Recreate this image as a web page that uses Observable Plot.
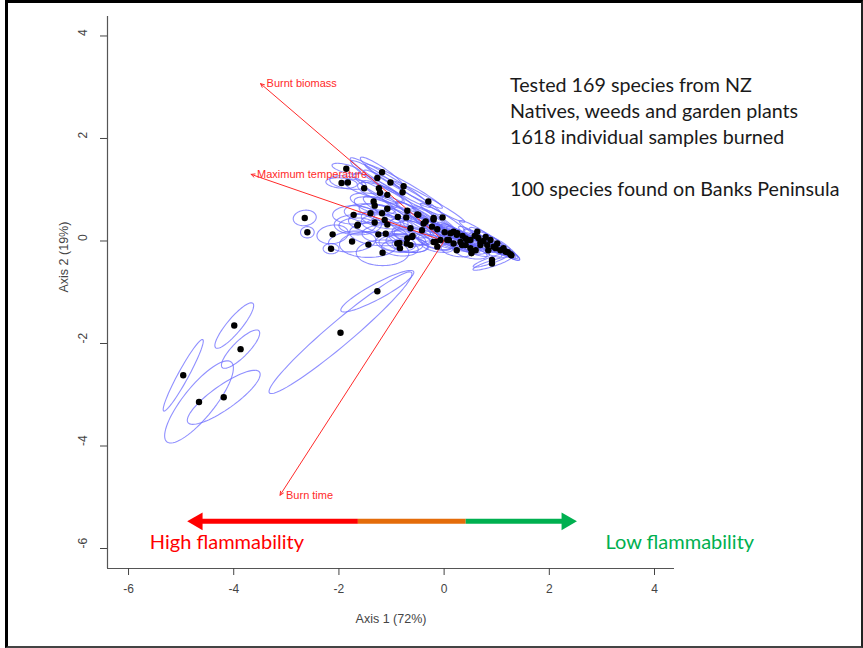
<!DOCTYPE html>
<html>
<head>
<meta charset="utf-8">
<script src="https://cdn.jsdelivr.net/npm/d3@7"></script>
<script src="https://cdn.jsdelivr.net/npm/@observablehq/plot@0.6"></script>
<style>
  html, body { margin: 0; padding: 0; background: #fff; }
  #wrap { position: relative; width: 863px; height: 648px; overflow: hidden; background: #fff; }
  #chart { position: absolute; left: 0; top: 0; }
  #note { position: absolute; left: 510px; top: 72px; font-family: Lato, "Open Sans", sans-serif; font-size: 19.7px; line-height: 26px; color: #1a1a1a; white-space: nowrap; }
  #frame { position: absolute; left: 5px; top: 0; width: 853px; height: 643px; border-top: 3px solid #000; border-left: 3px solid #000; border-right: 2px solid #222; border-bottom: 2px solid #444; pointer-events: none; }
</style>
</head>
<body>
<div id="wrap">
  <div id="chart"></div>
  <div id="note">Tested 169 species from NZ<br>Natives, weeds and garden plants<br>1618 individual samples burned<br><br>100 species found on Banks Peninsula</div>
  <div id="frame"></div>
</div>
<script>
// ---- Species scores (Axis 1, Axis 2) and their ellipses ----
const speciesX = [
  -1.27, -1.97, -3.99, -3.87, -4.96, -4.66, -4.19,
  -2.65, -2.60, -2.12, -2.15,
  -1.86, -1.18, -1.95, -1.83, -1.27, -1.02, -0.77, -1.52, -1.24, -0.79,
  -1.22, -1.08, -0.30, -1.34, -1.32, -1.08, -1.40, -0.70, -1.72, -1.18,
  -0.49, -0.88, -0.20, -0.03, -1.32, -1.13, -0.72, -0.39, -1.64, -1.08,
  -0.64, -0.23, -1.25, -1.11, -0.60, -1.75, -1.44, -0.85, -0.71, -0.20,
   0.01,  0.09,  0.24,  0.24, -1.17, -1.65, -0.84,
  -0.20, -0.13,  0.12,  0.25,  0.63,  0.79,  0.88,  1.01,  1.13,  1.26,
   0.94,  0.82,  0.69,  0.50,  0.41,  0.31,  0.18,  0.06, -0.07, -0.16,
  -0.13,  0.52,  0.91,  0.91, -0.70, -0.64, -0.35, -0.42,  0.18,  0.44,
   0.50,  0.34,  0.69,  1.17, -0.89, -0.61, -0.51,  0.35,  0.58,  0.65,
   0.75,  0.98,  1.07,  1.21,  1.28,  0.84,  0.60,  0.41
];
const speciesY = [
  -0.98, -1.79, -1.65, -2.11, -2.62, -3.14, -3.05,
   0.45,  0.17,  0.13, -0.15,
   1.41,  1.34,  1.13,  1.14,  1.23,  1.14,  1.07,  1.03,  1.03,  0.95,
   0.94,  0.90,  0.77,  0.77,  0.69,  0.63,  0.54,  0.59,  0.51,  0.54,
   0.51,  0.47,  0.45,  0.46,  0.36,  0.41,  0.46,  0.34,  0.32,  0.32,
   0.25,  0.28,  0.13,  0.14,  0.10, -0.01, -0.07, -0.04, -0.05, -0.02,
   0.17,  0.02,  0.12, -0.18, -0.23,  0.30, -0.14,
   0.42,  0.23,  0.15,  0.15,  0.18,  0.08,  0.02, -0.05, -0.14, -0.26,
  -0.11, -0.08, -0.02,  0.02,  0.05, -0.02, -0.05,  0.02,  0.02, -0.02,
  -0.11, -0.24, -0.37, -0.44,  0.05, -0.08,  0.38,  0.21,  0.18,  0.02,
  -0.14, -0.08, -0.08, -0.21, -0.05,  0.08,  0.52,  0.10,  0.10,  0.06,
   0.00, -0.14, -0.18, -0.22, -0.28, -0.18, -0.18, -0.08
];
// semi-axes (axis units) and orientation (degrees) of each species ellipse
const ellipseMajor = [
  0.79, 1.79, 0.56, 0.50, 0.79, 0.99, 0.84,
  0.22, 0.13, 0.30, 0.15,
  0.28, 0.50, 0.30, 0.35, 0.60, 0.90, 0.85, 0.40, 0.55, 0.85,
  0.45, 0.55, 0.80, 0.45, 0.40, 0.50, 0.50, 0.55, 0.40, 0.45,
  0.50, 0.50, 0.45, 0.50, 0.50, 0.45, 0.45, 0.40, 0.45, 0.50,
  0.40, 0.35, 0.55, 0.45, 0.40, 0.45, 0.55, 0.45, 0.40, 0.35,
  0.40, 0.35, 0.40, 0.30, 0.50, 0.35, 0.35,
  0.45, 0.40, 0.35, 0.35, 0.40, 0.35, 0.30, 0.30, 0.25, 0.20,
  0.30, 0.30, 0.35, 0.35, 0.35, 0.35, 0.35, 0.35, 0.35, 0.35,
  0.30, 0.30, 0.38, 0.38, 0.35, 0.35, 0.40, 0.40, 0.35, 0.30,
  0.30, 0.30, 0.30, 0.22, 0.35, 0.35, 0.45, 0.35, 0.35, 0.32,
  0.30, 0.28, 0.25, 0.22, 0.18, 0.28, 0.28, 0.30
];
const ellipseMinor = [
  0.15, 0.23, 0.14, 0.15, 0.10, 0.30, 0.23,
  0.15, 0.11, 0.18, 0.10,
  0.08, 0.09, 0.10, 0.12, 0.10, 0.10, 0.09, 0.12, 0.12, 0.10,
  0.14, 0.12, 0.07, 0.15, 0.14, 0.13, 0.18, 0.10, 0.18, 0.15,
  0.09, 0.12, 0.08, 0.07, 0.20, 0.16, 0.12, 0.10, 0.20, 0.18,
  0.14, 0.09, 0.22, 0.18, 0.15, 0.20, 0.25, 0.18, 0.16, 0.12,
  0.08, 0.09, 0.07, 0.12, 0.25, 0.15, 0.15,
  0.08, 0.08, 0.07, 0.07, 0.07, 0.07, 0.07, 0.07, 0.06, 0.06,
  0.08, 0.08, 0.08, 0.08, 0.08, 0.09, 0.10, 0.09, 0.10, 0.12,
  0.10, 0.10, 0.06, 0.06, 0.14, 0.14, 0.08, 0.10, 0.07, 0.07,
  0.09, 0.09, 0.07, 0.06, 0.15, 0.12, 0.08, 0.07, 0.07, 0.07,
  0.07, 0.07, 0.06, 0.06, 0.05, 0.07, 0.08, 0.08
];
const ellipseAngle = [
  29, 41, 51, 46, 62, 52, 36,
  8, 0, 8, 0,
  -15, -35, -5, -10, -33, -32, -30, -20, -30, -30,
  -20, -28, -30, -10, -15, -25, -5, -30, 0, -15,
  -30, -25, -30, -32, -5, -10, -25, -28, 0, -8,
  -20, -28, -5, 0, -15, 5, 0, -5, -10, -20,
  -30, -28, -30, -10, 0, 0, -5,
  -30, -30, -30, -30, -32, -30, -30, -30, -30, -30,
  -28, -28, -28, -28, -28, -25, -20, -25, -25, -15,
  -10, -10, 20, 18, -10, -5, -30, -25, -30, -28,
  -15, -20, -25, -30, -5, -15, -32, -30, -30, -30,
  -30, -30, -30, -30, -30, -25, -20, -25
];

// ---- Fitted trait vectors ----
const vectorLabels = ["Burnt biomass", "Maximum temperature", "Burn time"];
const vectorX = [-3.49, -3.67, -3.12];
const vectorY = [3.07, 1.30, -4.96];

// ---- Axes ----
const xTicks = [-6, -4, -2, 0, 2, 4];
const yTicks = [-6, -4, -2, 0, 2, 4];
const xDomain = [-6.4, 4.38];
const yDomain = [-6.39, 4.38];
const xTitle = "Axis 1 (72%)";
const yTitle = "Axis 2 (19%)";

// ---- Flammability gradient annotation ----
const flammTips = [-4.88, 2.52];
const flammBreaks = [-1.63, 0.42];
const flammLevel = -5.47;
const flammLabels = ["High flammability", "Low flammability"];
const flammLabelX = [-4.13, 4.48];
const flammLabelY = -5.88;
const flammColors = ["#ff0000", "#e46c0a", "#00b050"];

// ---- build tables ----
const species = speciesX.map((x, i) => ({x, y: speciesY[i]}));
const ellipseRows = [];
speciesX.forEach((cx, i) => {
  const a = ellipseMajor[i], b = ellipseMinor[i], th = ellipseAngle[i] * Math.PI / 180;
  const cy = speciesY[i];
  for (let k = 0; k < 72; k++) {
    const t = 2 * Math.PI * k / 72;
    ellipseRows.push({
      id: i,
      x: cx + a * Math.cos(t) * Math.cos(th) - b * Math.sin(t) * Math.sin(th),
      y: cy + a * Math.cos(t) * Math.sin(th) + b * Math.sin(t) * Math.cos(th)
    });
  }
});
const vectors = vectorLabels.map((label, i) => ({label, x: vectorX[i], y: vectorY[i]}));

const font = "'Liberation Sans', Arial, Helvetica, sans-serif";
const axisColor = "#444";

const chart = Plot.plot({
  width: 863,
  height: 648,
  marginLeft: 107,
  marginRight: 189,
  marginTop: 16,
  marginBottom: 80,
  style: {fontFamily: font, background: "transparent", overflow: "visible"},
  x: {domain: xDomain},
  y: {domain: yDomain},
  marks: [
    // axis box (left + bottom)
    Plot.ruleX([xDomain[0]], {y1: yDomain[0], y2: yDomain[1], stroke: "#555", strokeWidth: 1.2}),
    Plot.ruleY([yDomain[0]], {x1: xDomain[0], x2: xDomain[1], stroke: "#555", strokeWidth: 1.2}),
    Plot.axisX(xTicks, {tickSize: 7, tickPadding: 9, tickFormat: d => String(d), fontSize: 12, color: axisColor, label: null}),
    Plot.axisY(yTicks, {tickSize: 7, tickFormat: () => "", color: axisColor, label: null}),
    Plot.text(yTicks, {y: d => d, frameAnchor: "left", dx: -24, rotate: -90, text: d => String(d), fontSize: 12, fill: axisColor}),
    Plot.text([xTitle], {frameAnchor: "bottom", dy: 54, text: d => d, fontSize: 12.5, fill: axisColor}),
    Plot.text([yTitle], {frameAnchor: "left", dx: -44, rotate: -90, text: d => d, fontSize: 12.5, fill: axisColor}),

    // species ellipses
    Plot.line(ellipseRows, {x: "x", y: "y", z: "id", curve: "linear-closed", stroke: "#6b6bff", strokeWidth: 1.1, strokeOpacity: 0.75}),

    // trait vectors
    Plot.arrow(vectors, {x1: 0, y1: 0, x2: "x", y2: "y", stroke: "#ff2a2a", strokeWidth: 1, headLength: 6, headAngle: 50}),
    Plot.text(vectors, {x: "x", y: "y", text: "label", textAnchor: "start", dx: 6, fill: "#ff2a2a", fontSize: 11}),

    // species scores
    Plot.dot(species, {x: "x", y: "y", r: 3.2, fill: "#000"}),

    // flammability arrow
    Plot.ruleY([0], {y: flammLevel, x1: flammTips[0], x2: flammBreaks[0], stroke: flammColors[0], strokeWidth: 5, insetLeft: 8}),
    Plot.ruleY([0], {y: flammLevel, x1: flammBreaks[0], x2: flammBreaks[1], stroke: flammColors[1], strokeWidth: 5}),
    Plot.ruleY([0], {y: flammLevel, x1: flammBreaks[1], x2: flammTips[1], stroke: flammColors[2], strokeWidth: 5, insetRight: 8}),
    Plot.dot([0], {x: flammTips[0], y: flammLevel, symbol: "triangle", rotate: -90, r: 6.6, dx: 10, fill: flammColors[0]}),
    Plot.dot([0], {x: flammTips[1], y: flammLevel, symbol: "triangle", rotate: 90, r: 6.6, dx: -10, fill: flammColors[2]}),
    Plot.text([flammLabels[0]], {x: flammLabelX[0], y: flammLabelY, text: d => d, fill: flammColors[0], fontSize: 20, fontFamily: "Lato, 'Open Sans', sans-serif"}),
    Plot.text([flammLabels[1]], {x: flammLabelX[1], y: flammLabelY, text: d => d, fill: flammColors[2], fontSize: 20, fontFamily: "Lato, 'Open Sans', sans-serif"})
  ]
});
document.getElementById("chart").appendChild(chart);
</script>
</body>
</html>
